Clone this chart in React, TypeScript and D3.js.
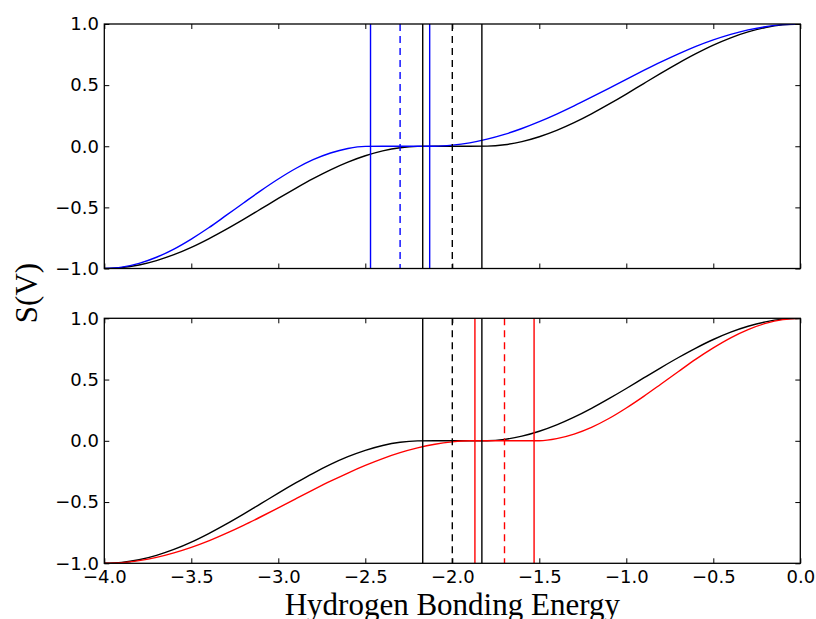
import React, { useEffect, useRef } from 'react';
import * as d3 from 'd3';

// sample positions along the hydrogen bonding energy axis
const energy = [
    -4.0, -3.9, -3.8, -3.7, -3.6, -3.5, -3.4, -3.3, -3.2, -3.1, -3.0, -2.9, -2.8, -2.7, -2.6, -2.5, -2.4, -2.3, -2.2,
    -2.1, -2.0, -1.9, -1.8, -1.7, -1.6, -1.5, -1.4, -1.3, -1.2, -1.1, -1.0, -0.9, -0.8, -0.7, -0.6, -0.5, -0.4, -0.3,
    -0.2, -0.1, 0.0,
];

// S(V)
const sBlack = [
    -1.0, -0.993, -0.971, -0.935, -0.887, -0.827, -0.757, -0.68, -0.598, -0.513, -0.427, -0.344, -0.265, -0.193, -0.13,
    -0.078, -0.038, -0.012, -0.001, 0.0, 0.0, 0.0, 0.001, 0.012, 0.038, 0.078, 0.13, 0.193, 0.265, 0.344, 0.427, 0.513,
    0.598, 0.68, 0.757, 0.827, 0.887, 0.935, 0.971, 0.993, 1.0,
];
const sBlue = [
    -1.0, -0.989, -0.958, -0.908, -0.841, -0.759, -0.667, -0.566, -0.464, -0.363, -0.268, -0.182, -0.11, -0.055, -0.018,
    -0.001, 0.0, 0.0, 0.0, 0.0, 0.009, 0.028, 0.058, 0.097, 0.145, 0.201, 0.263, 0.33, 0.401, 0.474, 0.548, 0.62, 0.69,
    0.756, 0.817, 0.87, 0.915, 0.952, 0.978, 0.995, 1.0,
];
const sRed = [
    -1.0, -0.995, -0.978, -0.952, -0.915, -0.87, -0.817, -0.756, -0.69, -0.62, -0.548, -0.474, -0.401, -0.33, -0.263,
    -0.201, -0.145, -0.097, -0.058, -0.028, -0.009, 0.0, 0.0, 0.0, 0.0, 0.001, 0.018, 0.055, 0.11, 0.182, 0.268, 0.363,
    0.464, 0.566, 0.667, 0.759, 0.841, 0.908, 0.958, 0.989, 1.0,
];

// vertical markers: lower edge, centre (dashed), upper edge
const blackCuts = [-2.17, -2.0, -1.83];
const blueCuts = [-2.47, -2.3, -2.13];
const redCuts = [-1.87, -1.7, -1.53];

const xTicks = [-4.0, -3.5, -3.0, -2.5, -2.0, -1.5, -1.0, -0.5, 0.0];
const yTicks = [-1.0, -0.5, 0.0, 0.5, 1.0];

export default function App() {
    const svgRef = useRef<SVGSVGElement>(null);
    const width = 816,
        height = 619;
    const left = 104.3,
        right = 800.3;

    useEffect(() => {
        const svg = d3.select(svgRef.current);
        svg.selectAll('*').remove();

        const x = d3.scaleLinear().domain([-4, 0]).range([left, right]);
        const fmt = d3.format('.1f');

        const drawPanel = (top, bottom, curves, cuts, showX, id) => {
            const y = d3.scaleLinear().domain([-1, 1]).range([bottom, top]);

            svg.append('clipPath')
                .attr('id', id)
                .append('rect')
                .attr('x', left)
                .attr('y', top)
                .attr('width', right - left)
                .attr('height', bottom - top);

            const g = svg.append('g').attr('clip-path', `url(#${id})`);

            const line = d3
                .line<number>()
                .x((d, i) => x(energy[i]))
                .y((d) => y(d))
                .curve(d3.curveMonotoneX);

            curves.forEach((c) => {
                g.append('path')
                    .datum(c.values)
                    .attr('d', line)
                    .attr('fill', 'none')
                    .attr('stroke', c.color)
                    .attr('stroke-width', 1.4);
            });

            cuts.forEach((c) => {
                g.selectAll(null)
                    .data(c.values)
                    .join('line')
                    .attr('x1', (d) => x(d))
                    .attr('x2', (d) => x(d))
                    .attr('y1', top)
                    .attr('y2', bottom)
                    .attr('stroke', c.color)
                    .attr('stroke-width', 1.4)
                    .attr('stroke-dasharray', (d, i) => (i === 1 ? '7,5' : null));
            });

            // axes, ticks point inwards on all four sides
            const styleAxis = (a) => {
                a.select('.domain').remove();
                a.attr('font-family', '"DejaVu Sans", sans-serif').attr('font-size', 18).attr('color', '#000');
                a.selectAll('line').attr('stroke-width', 1);
            };

            svg.append('g')
                .attr('transform', `translate(0, ${bottom})`)
                .call(
                    d3
                        .axisBottom(x)
                        .tickValues(xTicks)
                        .tickSize(-5)
                        .tickPadding(7.4)
                        .tickFormat(showX ? fmt : () => '')
                )
                .call(styleAxis);
            svg.append('g')
                .attr('transform', `translate(0, ${top})`)
                .call(d3.axisTop(x).tickValues(xTicks).tickSize(-5).tickFormat(() => ''))
                .call(styleAxis);
            svg.append('g')
                .attr('transform', `translate(${left}, 0)`)
                .call(d3.axisLeft(y).tickValues(yTicks).tickSize(-5).tickPadding(5.3).tickFormat(fmt))
                .call(styleAxis);
            svg.append('g')
                .attr('transform', `translate(${right}, 0)`)
                .call(d3.axisRight(y).tickValues(yTicks).tickSize(-5).tickFormat(() => ''))
                .call(styleAxis);

            svg.append('rect')
                .attr('x', left)
                .attr('y', top)
                .attr('width', right - left)
                .attr('height', bottom - top)
                .attr('fill', 'none')
                .attr('stroke', '#000')
                .attr('stroke-width', 1.3);
        };

        drawPanel(
            24,
            268.5,
            [
                { values: sBlack, color: '#000000' },
                { values: sBlue, color: '#0000ff' },
            ],
            [
                { values: blueCuts, color: '#0000ff' },
                { values: blackCuts, color: '#000000' },
            ],
            false,
            'clip-top'
        );
        drawPanel(
            318.3,
            563.3,
            [
                { values: sBlack, color: '#000000' },
                { values: sRed, color: '#ff0000' },
            ],
            [
                { values: blackCuts, color: '#000000' },
                { values: redCuts, color: '#ff0000' },
            ],
            true,
            'clip-bottom'
        );

        svg.append('text')
            .attr('x', (left + right) / 2)
            .attr('y', 615)
            .attr('text-anchor', 'middle')
            .attr('font-family', '"Liberation Serif", serif')
            .attr('font-size', 31)
            .text('Hydrogen Bonding Energy');

        svg.append('text')
            .attr('transform', 'translate(37, 293) rotate(-90)')
            .attr('text-anchor', 'middle')
            .attr('font-family', '"Liberation Serif", serif')
            .attr('font-size', 31)
            .text('S(V)');
        //eslint-disable-next-line
    }, []);

    return (
        <div style={{ position: 'absolute', left: 0, top: 0 }}>
            <svg ref={svgRef} width={width} height={height} style={{ display: 'block', background: '#fff' }} />
        </div>
    );
}
